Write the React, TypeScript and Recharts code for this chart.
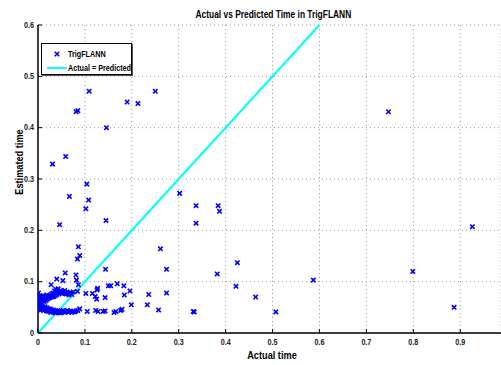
import React from 'react';
import {
  ScatterChart,
  Scatter,
  XAxis,
  YAxis,
  CartesianGrid,
  ReferenceLine,
  Legend,
} from 'recharts';

// actual time (s) vs. time estimated by the TrigFLANN model
const actualTime = [
  // sparse, high estimates
  0.031, 0.059, 0.081, 0.085, 0.109, 0.146, 0.19, 0.213, 0.25, 0.747,
  0.067, 0.104, 0.108, 0.102, 0.145, 0.046, 0.302, 0.337, 0.337, 0.384, 0.387, 0.926,
  0.261, 0.274, 0.425, 0.382, 0.422, 0.274, 0.464, 0.257, 0.331, 0.333, 0.236, 0.233, 0.199,
  0.507, 0.587, 0.799, 0.887, 0.086, 0.089, 0.084, 0.144,
  // middle group
  0.196, 0.183, 0.184, 0.169, 0.155, 0.15, 0.143, 0.116, 0.126, 0.122, 0.125,
  0.179, 0.176, 0.166, 0.162, 0.143, 0.139, 0.128, 0.123, 0.105, 0.089,
  0.028, 0.04, 0.058, 0.053, 0.081, 0.082, 0.086, 0.084, 0.102, 0.07, 0.127,
  // dense upper band
  0.001, 0.002, 0.003, 0.004, 0.005, 0.006, 0.007, 0.008, 0.009, 0.01, 0.011, 0.012, 0.013,
  0.014, 0.015, 0.016, 0.017, 0.018, 0.019, 0.02, 0.022, 0.023, 0.025, 0.026, 0.028, 0.029,
  0.031, 0.032, 0.034, 0.035, 0.037, 0.038, 0.04, 0.042, 0.043, 0.045, 0.046, 0.048, 0.05,
  0.051, 0.053, 0.055, 0.057, 0.058, 0.06, 0.062, 0.064, 0.066, 0.068, 0.072, 0.075,
  // dense lower band
  0.001, 0.002, 0.003, 0.004, 0.005, 0.006, 0.007, 0.008, 0.009, 0.01, 0.011, 0.012, 0.014,
  0.015, 0.016, 0.018, 0.019, 0.021, 0.022, 0.024, 0.025, 0.027, 0.028, 0.03, 0.032, 0.033,
  0.035, 0.037, 0.038, 0.04, 0.042, 0.044, 0.046, 0.048, 0.05, 0.052, 0.054, 0.057, 0.06,
  0.063, 0.066, 0.069, 0.072, 0.075, 0.078, 0.081, 0.085,
];

const estimatedTime = [
  0.329, 0.344, 0.431, 0.433, 0.471, 0.4, 0.45, 0.447, 0.471, 0.431,
  0.266, 0.29, 0.259, 0.242, 0.219, 0.211, 0.272, 0.248, 0.214, 0.248, 0.237, 0.207,
  0.164, 0.124, 0.137, 0.115, 0.091, 0.078, 0.07, 0.045, 0.042, 0.041, 0.075, 0.055, 0.055,
  0.041, 0.103, 0.12, 0.05, 0.168, 0.151, 0.144, 0.124,
  0.082, 0.092, 0.074, 0.096, 0.092, 0.092, 0.069, 0.077, 0.084, 0.071, 0.066,
  0.046, 0.044, 0.042, 0.04, 0.043, 0.042, 0.042, 0.044, 0.042, 0.047,
  0.094, 0.105, 0.117, 0.102, 0.113, 0.103, 0.094, 0.081, 0.077, 0.077, 0.087,
  0.062, 0.068, 0.072, 0.065, 0.07, 0.059, 0.067, 0.071, 0.064, 0.069, 0.073, 0.066, 0.061,
  0.07, 0.067, 0.072, 0.063, 0.069, 0.074, 0.066, 0.071, 0.068, 0.073, 0.069, 0.072, 0.076,
  0.07, 0.078, 0.071, 0.082, 0.073, 0.085, 0.075, 0.08, 0.086, 0.076, 0.079, 0.083, 0.081,
  0.077, 0.08, 0.078, 0.083, 0.079, 0.076, 0.08, 0.077, 0.074, 0.079, 0.075, 0.08, 0.078,
  0.052, 0.047, 0.054, 0.049, 0.045, 0.051, 0.048, 0.053, 0.046, 0.05, 0.044, 0.048, 0.051,
  0.046, 0.043, 0.049, 0.045, 0.042, 0.047, 0.044, 0.04, 0.046, 0.043, 0.041, 0.045, 0.042,
  0.039, 0.044, 0.041, 0.043, 0.04, 0.042, 0.039, 0.043, 0.041, 0.044, 0.04, 0.042, 0.044,
  0.041, 0.043, 0.04, 0.042, 0.041, 0.043, 0.044, 0.042,
];

const xTicks = [0, 0.1, 0.2, 0.3, 0.4, 0.5, 0.6, 0.7, 0.8, 0.9];
const yTicks = [0, 0.1, 0.2, 0.3, 0.4, 0.5, 0.6];

const points = actualTime.map((x, i) => ({ x, y: estimatedTime[i] }));

const FONT = "'Liberation Sans', Arial, sans-serif";
const SQUEEZE = 0.8; // narrow Helvetica look
const BLUE = '#0000ff';
const CYAN = '#00ffff';

const fmt = (v: number) => (v === 0 ? '0' : v.toFixed(1));

const XMark = ({ cx, cy }: any) => {
  if (cx == null || cy == null) return null;
  const s = 2.2;
  return (
    <g stroke={BLUE} strokeWidth={1.6}>
      <line x1={cx - s} y1={cy - s} x2={cx + s} y2={cy + s} />
      <line x1={cx - s} y1={cy + s} x2={cx + s} y2={cy - s} />
    </g>
  );
};

// squeezed bold text drawn at (x, y)
const NarrowText = ({ x, y, anchor = 'middle', size = 9, rotate = 0, fill = '#000', children }: any) => (
  <g transform={`translate(${x} ${y}) rotate(${rotate}) scale(${SQUEEZE} 1)`}>
    <text x={0} y={0} textAnchor={anchor} dominantBaseline="central" fontFamily={FONT} fontWeight="bold" fontSize={size} fill={fill}>
      {children}
    </text>
  </g>
);

const XTick = ({ x, y, payload }: any) => (
  <NarrowText x={x} y={y + 4} size={9} fill="#222">{fmt(payload.value)}</NarrowText>
);

const YTick = ({ x, y, payload }: any) => (
  <NarrowText x={x} y={y} anchor="end" size={9} fill="#222">{fmt(payload.value)}</NarrowText>
);

const YTitle = ({ viewBox }: any) => (
  <NarrowText x={19} y={viewBox.y + viewBox.height / 2 - 17} rotate={-90} size={11.5}>
    Estimated time
  </NarrowText>
);

const XTitle = ({ viewBox }: any) => (
  <NarrowText x={viewBox.x + 234} y={viewBox.y + 22} size={11.5}>
    Actual time
  </NarrowText>
);

const squeezed: React.CSSProperties = {
  fontFamily: FONT,
  fontWeight: 'bold',
  color: '#000',
  whiteSpace: 'nowrap',
  transform: `scaleX(${SQUEEZE})`,
  transformOrigin: 'left center',
};

const LegendBox = () => (
  <div
    style={{
      width: 89,
      height: 30,
      border: '1px solid #000',
      boxShadow: '1px 1px 0 #555',
      background: '#fff',
      position: 'relative',
    }}
  >
    <svg width={26} height={30} style={{ position: 'absolute', left: 0, top: 0 }}>
      <XMark cx={15} cy={10} />
      <line x1={5} y1={24} x2={25} y2={24} stroke={CYAN} strokeWidth={2} />
    </svg>
    <div style={{ ...squeezed, position: 'absolute', left: 26, top: 4, fontSize: 9, lineHeight: '12px' }}>TrigFLANN</div>
    <div style={{ ...squeezed, position: 'absolute', left: 26, top: 18, fontSize: 9, lineHeight: '12px' }}>Actual = Predicted</div>
  </div>
);

export default function App() {
  return (
    <div style={{ position: 'absolute', left: 0, top: 0, width: 501, height: 365, background: '#fff', overflow: 'hidden' }}>
      <div style={{ position: 'absolute', left: 0, width: 546, top: 6, textAlign: 'center', lineHeight: '14px' }}>
        <span style={{ ...squeezed, display: 'inline-block', fontSize: 10.5, transformOrigin: 'center center' }}>
          Actual vs Predicted Time in TrigFLANN
        </span>
      </div>
      <ScatterChart width={501} height={365} margin={{ top: 25, right: 0, bottom: 0, left: 0 }}>
        <CartesianGrid stroke="#9a9a9a" strokeDasharray="1 3" />
        <XAxis
          type="number"
          dataKey="x"
          domain={[0, 0.987]}
          ticks={xTicks}
          height={32}
          allowDataOverflow
          axisLine={{ stroke: '#000', strokeWidth: 1.5 }}
          tickLine={{ stroke: '#000' }}
          tickSize={-4}
          tickMargin={9}
          tick={<XTick />}
          label={<XTitle />}
        />
        <XAxis
          xAxisId="top"
          orientation="top"
          type="number"
          domain={[0, 0.987]}
          ticks={xTicks}
          height={0}
          allowDataOverflow
          axisLine={{ stroke: '#000', strokeWidth: 1.5 }}
          tickLine={{ stroke: '#000' }}
          tickSize={-4}
          tick={false}
        />
        <YAxis
          type="number"
          dataKey="y"
          domain={[0, 0.6]}
          ticks={yTicks}
          width={38}
          allowDataOverflow
          axisLine={{ stroke: '#000', strokeWidth: 1.5 }}
          tickLine={{ stroke: '#000' }}
          tickSize={-4}
          tickMargin={8}
          tick={<YTick />}
          label={<YTitle />}
        />
        <Scatter data={points} shape={<XMark />} isAnimationActive={false} />
        <ReferenceLine
          segment={[
            { x: 0, y: 0 },
            { x: 0.6, y: 0.6 },
          ]}
          stroke={CYAN}
          strokeWidth={2}
        />
        <Legend
          layout="horizontal"
          verticalAlign="middle"
          align="center"
          content={<LegendBox />}
          wrapperStyle={{ left: 41, top: 43, width: 'auto' }}
        />
      </ScatterChart>
    </div>
  );
}
